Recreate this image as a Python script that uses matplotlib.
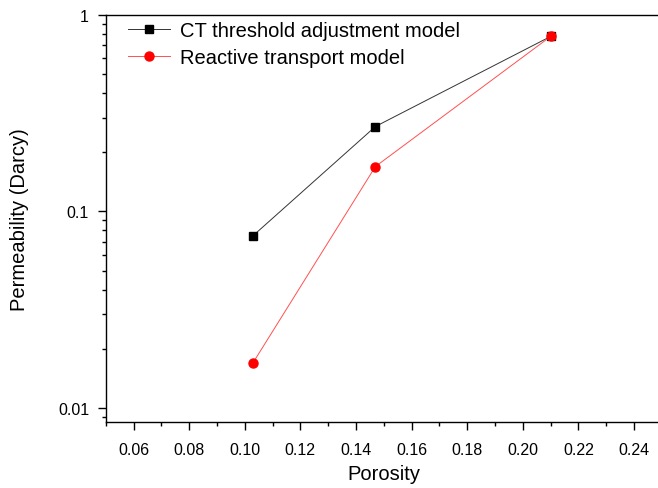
import numpy as np
import matplotlib.pyplot as plt
from matplotlib.ticker import FixedLocator, LogLocator, NullFormatter, MultipleLocator

plt.rcParams['font.family'] = ['Liberation Sans', 'DejaVu Sans']

# data
porosity = [0.103, 0.147, 0.21]
perm_ct = [0.0752, 0.27, 0.775]
perm_rt = [0.0170, 0.169, 0.775]
x_ticks = [0.06, 0.08, 0.10, 0.12, 0.14, 0.16, 0.18, 0.20, 0.22, 0.24]
y_ticks = [0.01, 0.1, 1]
y_labels = ["0.01", "0.1", "1"]

fig = plt.figure(figsize=(6.58, 4.89), dpi=100)
ax = fig.add_axes([105.7 / 658, 1 - 423.3 / 489, (661.8 - 105.7) / 658, (423.3 - 15.7) / 489])

ax.plot(porosity, perm_ct, color='#333333', lw=0.7, marker='s', ms=6,
        mfc='black', mec='black', label='CT threshold adjustment model')
ax.plot(porosity, perm_rt, color='#ff5050', lw=0.7, marker='o', ms=6.5,
        mfc='red', mec='red', label='Reactive transport model')

ax.set_yscale('log')
ax.set_xlim(0.05, 0.25)
ax.set_ylim(0.00846, 1)

ax.xaxis.set_major_locator(FixedLocator(x_ticks))
ax.xaxis.set_minor_locator(MultipleLocator(0.01))
ax.set_xticklabels([f"{v:.2f}" for v in x_ticks])
ax.yaxis.set_major_locator(FixedLocator(y_ticks))
ax.set_yticklabels(y_labels)
ax.yaxis.set_minor_locator(LogLocator(base=10, subs=np.arange(2, 10)))
ax.yaxis.set_minor_formatter(NullFormatter())

ax.tick_params(which='major', direction='out', length=6, width=1, labelsize=11.5, pad=6)
ax.tick_params(axis='x', which='major', pad=8)
ax.tick_params(which='minor', direction='out', length=3, width=1)
ax.spines['right'].set_visible(False)
for s in ['left', 'bottom', 'top']:
    ax.spines[s].set_linewidth(1)

ax.set_xlabel('Porosity', fontsize=14.5)
ax.set_ylabel('Permeability (Darcy)', fontsize=14.5)
ax.xaxis.set_label_coords(0.5, -0.102)
ax.yaxis.set_label_coords(-0.138, 0.5)

ax.legend(loc='upper left', bbox_to_anchor=(0.04, 0.985), frameon=False,
          fontsize=14.5, handlelength=2.1, handletextpad=0.5,
          borderpad=0, borderaxespad=0, labelspacing=0.42)

fig.savefig('out.png', dpi=100)
